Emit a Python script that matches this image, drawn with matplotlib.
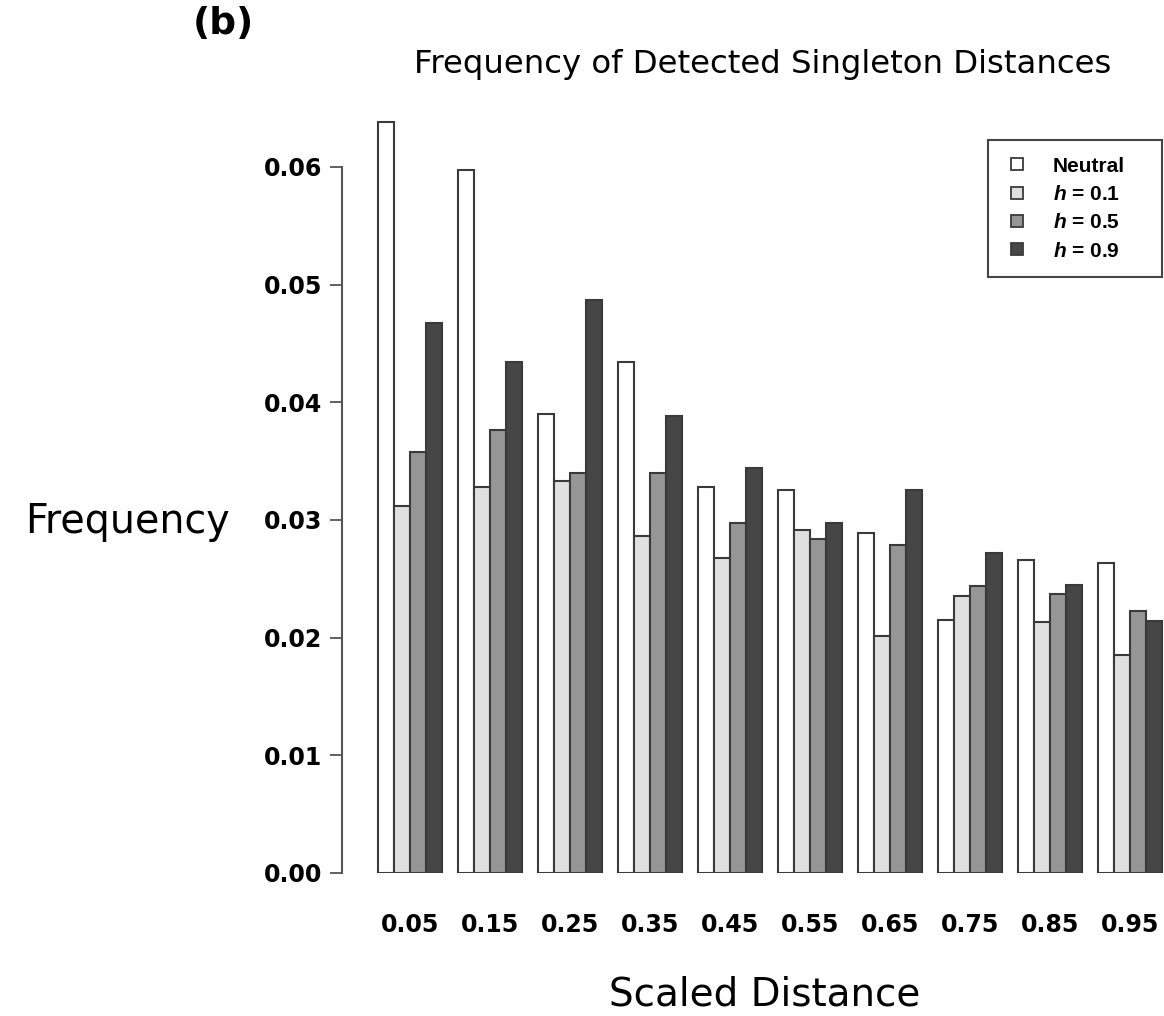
import matplotlib
matplotlib.use("Agg")
import matplotlib.pyplot as plt
from matplotlib.lines import Line2D
import numpy as np

# ---- data ----
distances = ["0.05", "0.15", "0.25", "0.35", "0.45", "0.55", "0.65", "0.75", "0.85", "0.95"]
series_names = ["Neutral", "$h$ = 0.1", "$h$ = 0.5", "$h$ = 0.9"]
neutral = [0.0638, 0.0597, 0.0390, 0.0434, 0.0328, 0.0325, 0.0289, 0.0215, 0.0266, 0.0263]
h01 = [0.0312, 0.0328, 0.0333, 0.0286, 0.0268, 0.0291, 0.0201, 0.0235, 0.0213, 0.0185]
h05 = [0.0358, 0.0376, 0.0340, 0.0340, 0.0297, 0.0284, 0.0279, 0.0244, 0.0237, 0.0223]
h09 = [0.0467, 0.0434, 0.0487, 0.0388, 0.0344, 0.0297, 0.0325, 0.0272, 0.0245, 0.0214]
y_ticks = [0.00, 0.01, 0.02, 0.03, 0.04, 0.05, 0.06]
y_tick_labels = ["0.00", "0.01", "0.02", "0.03", "0.04", "0.05", "0.06"]

colors = ["#ffffff", "#e0e0e0", "#969696", "#464646"]
edgecol = "#3a3a3a"

plt.rcParams["mathtext.fontset"] = "custom"
plt.rcParams["mathtext.it"] = "Liberation Sans:italic:bold"
plt.rcParams["mathtext.rm"] = "Liberation Sans:bold"

W, H = 1164, 1016
fig = plt.figure(figsize=(W / 100, H / 100), dpi=100)

ax_left, ax_right = 342, 1164
ax_bottom, ax_top = 873, 100
ax = fig.add_axes([ax_left / W, (H - ax_bottom) / H,
                   (ax_right - ax_left) / W, (ax_bottom - ax_top) / H])

all_series = [neutral, h01, h05, h09]
n_groups = len(distances)
group_idx = np.arange(n_groups)
for j, (vals, col) in enumerate(zip(all_series, colors)):
    lefts = 1 + 5 * group_idx + j
    ax.bar(lefts, vals, width=1.0, align="edge", color=col,
           edgecolor=edgecol, linewidth=1.5)

ax.set_xlim(-1.25, 50.125)
ax.set_ylim(0, (ax_bottom - ax_top) / 11770.0)

for s in ["top", "right", "bottom"]:
    ax.spines[s].set_visible(False)
ax.spines["left"].set_bounds(0, 0.06)
ax.spines["left"].set_color("#555555")
ax.spines["left"].set_linewidth(1.5)

ax.set_yticks(y_ticks)
ax.set_yticklabels(y_tick_labels, fontfamily="DejaVu Sans", fontweight="bold", fontsize=17)
ax.tick_params(axis="y", length=9, width=1.3, color="#555555", pad=5)

ax.set_xticks(1 + 5 * group_idx + 2)
ax.set_xticklabels(distances, fontfamily="DejaVu Sans", fontweight="bold", fontsize=17)
ax.tick_params(axis="x", length=0, pad=29)

ax.set_ylabel("Frequency", rotation=0, fontsize=28.5, ha="left", va="center",
              fontfamily="DejaVu Sans")
ax.yaxis.set_label_coords((25 - ax_left) / (ax_right - ax_left),
                          (ax_bottom - 522) / (ax_bottom - ax_top))
ax.set_xlabel("Scaled Distance", fontsize=28, fontfamily="DejaVu Sans", va="center")
ax.xaxis.set_label_coords((765 - ax_left) / (ax_right - ax_left),
                          (ax_bottom - 995) / (ax_bottom - ax_top))

fig.text(763 / W, 1 - 65 / H, "Frequency of Detected Singleton Distances",
         ha="center", va="center", fontsize=23.3, fontfamily="DejaVu Sans")
fig.text(193 / W, 1 - 24 / H, "(b)", ha="left", va="center", fontsize=27,
         fontweight="bold", fontfamily="DejaVu Sans")

handles = [Line2D([], [], linestyle="none", marker="s", markersize=8,
                  markerfacecolor=c, markeredgecolor=edgecol, markeredgewidth=1.3)
           for c in colors]
leg = ax.legend(handles, series_names, loc="upper left", mode="expand",
                bbox_to_anchor=(988 / W, (H - 283) / H, 174 / W, 143 / H),
                bbox_transform=fig.transFigure,
                borderaxespad=0, fancybox=False, framealpha=1,
                prop={"family": "Liberation Sans", "weight": "bold", "size": 15},
                handlelength=1.2, handletextpad=1.1,
                labelspacing=0.45, borderpad=0.8)
leg.get_frame().set_edgecolor("#444444")
leg.get_frame().set_linewidth(1.5)

fig.savefig("out.png", dpi=100, facecolor="white")
